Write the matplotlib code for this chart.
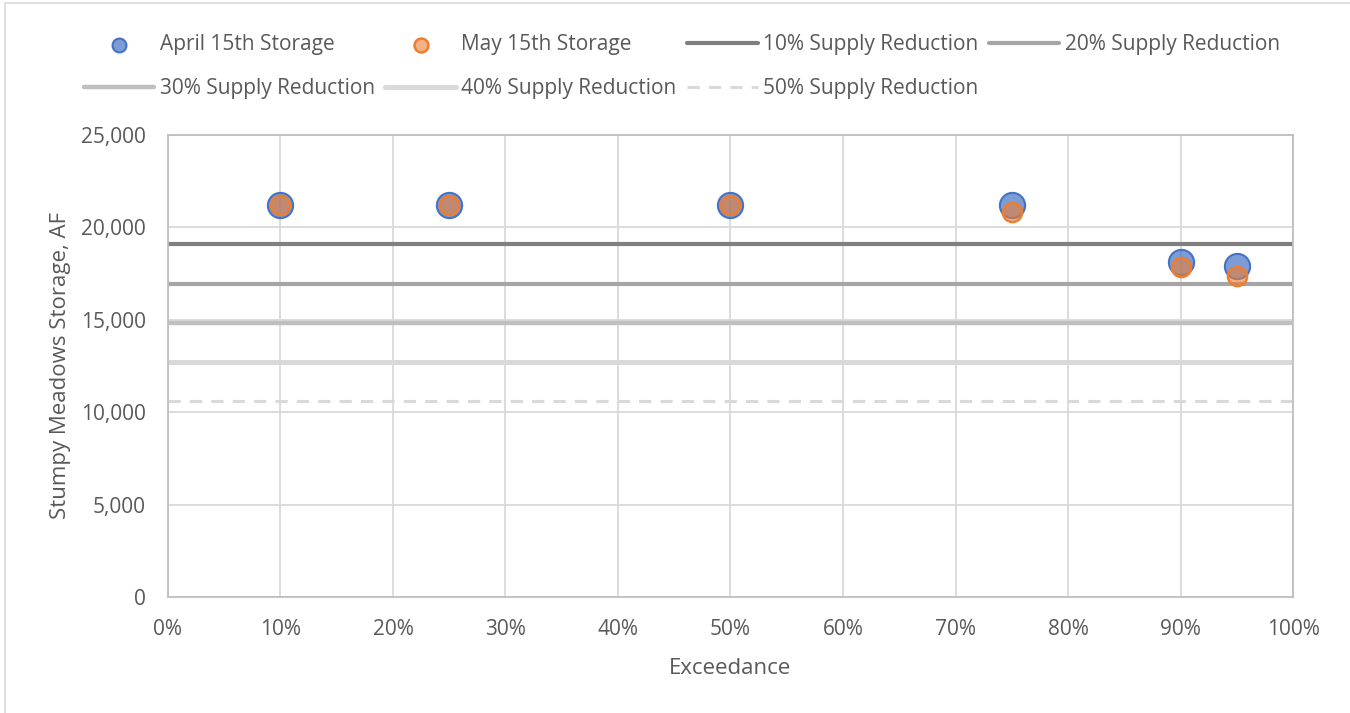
import matplotlib.pyplot as plt
from matplotlib.colors import to_rgba
from matplotlib.patches import Rectangle
from matplotlib.ticker import FuncFormatter, PercentFormatter

plt.rcParams['font.family'] = ['Open Sans', 'DejaVu Sans']

# exceedance probabilities and storage (AF)
exceedance = [0.10, 0.25, 0.50, 0.75, 0.90, 0.95]
april_storage = [21200, 21200, 21200, 21200, 18130, 17910]
may_storage = [21200, 21200, 21200, 20850, 17860, 17370]

reduction_labels = ["10% Supply Reduction", "20% Supply Reduction", "30% Supply Reduction",
                    "40% Supply Reduction", "50% Supply Reduction"]
reduction_levels = [19080, 16960, 14840, 12720, 10600]

text_color = "#595959"
grid_color = "#D9D9D9"

fig = plt.figure(figsize=(13.5, 7.13), dpi=100)
ax = fig.add_axes([0.1244, 0.1627, 0.8334, 0.648])

# chart area border (only left/top visible in reference)
fig.patches.append(Rectangle((5 / 1350, -0.05), 1.2, 1.05 - 3 / 713, transform=fig.transFigure,
                             fill=False, edgecolor="#D9D9D9", linewidth=1.2))

line_styles = [
    dict(color="#7F7F7F", lw=3.0, ls="-"),
    dict(color="#A5A5A5", lw=3.0, ls="-"),
    dict(color="#BFBFBF", lw=3.2, ls="-"),
    dict(color="#D9D9D9", lw=3.6, ls="-"),
    dict(color="#D9D9D9", lw=2.2, ls=(0, (4, 3))),
]
handles = {}
for lbl, lvl, st in zip(reduction_labels, reduction_levels, line_styles):
    h, = ax.plot([0, 1], [lvl, lvl], color=st["color"], lw=st["lw"], ls=st["ls"],
                 solid_capstyle="round", label=lbl, zorder=2)
    handles[lbl] = h

ha = ax.scatter(exceedance, april_storage, s=330, facecolor=to_rgba("#4472C4", 0.7),
                edgecolor="#4472C4", linewidth=1.5, label="April 15th Storage", zorder=3)
hm = ax.scatter(exceedance, may_storage, s=190, facecolor=to_rgba("#ED7D31", 0.6),
                edgecolor="#ED7D31", linewidth=1.8, label="May 15th Storage", zorder=4)

ax.set_xlim(0, 1)
ax.set_ylim(0, 25000)
ax.set_xticks([i / 10 for i in range(11)])
ax.set_yticks(range(0, 25001, 5000))
ax.xaxis.set_major_formatter(PercentFormatter(1.0, decimals=0))
ax.yaxis.set_major_formatter(FuncFormatter(lambda v, p: f"{int(v):,}"))
ax.grid(True, color=grid_color, linewidth=1.3, zorder=0)
ax.set_axisbelow(True)
for sp in ax.spines.values():
    sp.set_color("#BFBFBF")
    sp.set_linewidth(1.3)
ax.tick_params(length=0, labelsize=15, colors=text_color)
ax.tick_params(axis="x", pad=16)
ax.tick_params(axis="y", pad=16)

ax.set_xlabel("Exceedance", fontsize=16, color=text_color, labelpad=13)
ax.set_ylabel("Stumpy Meadows Storage, AF", fontsize=16, color=text_color, labelpad=7)

# column-major order so rows read like the reference
order = [ha, handles[reduction_labels[2]], hm, handles[reduction_labels[3]],
         handles[reduction_labels[0]], handles[reduction_labels[4]], handles[reduction_labels[1]]]
leg = fig.legend(handles=order, labels=[h.get_label() for h in order], ncol=4,
                 loc="upper left", bbox_to_anchor=(0.048, 0.978), frameon=False,
                 fontsize=15, handlelength=3.4, handletextpad=0.25, columnspacing=0.5,
                 labelspacing=1.1)
for t in leg.get_texts():
    t.set_color(text_color)
for h in leg.legend_handles:
    try:
        h.set_sizes([100])
    except AttributeError:
        pass

fig.savefig("out.png", dpi=100)
